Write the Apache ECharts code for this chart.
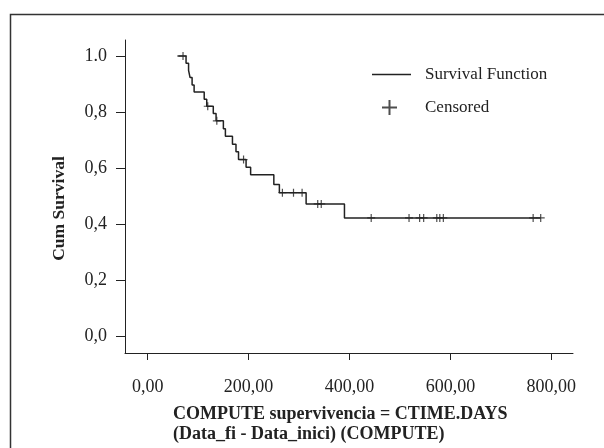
<!DOCTYPE html>
<html>
<head>
<meta charset="utf-8">
<script src="https://cdn.jsdelivr.net/npm/echarts@6/dist/echarts.min.js"></script>
<style>html,body{margin:0;padding:0;background:#fff}#c{width:604px;height:448px}</style>
</head>
<body>
<div id="c"></div>
<script>
// Kaplan-Meier step points (days, cumulative survival)
const stepTimes = [59, 76, 81, 84, 88, 92, 112, 117, 130, 135.5, 150, 154, 168, 175, 180, 195, 204, 250, 261, 314, 390, 779];
const stepSurv  = [1.0, 0.974, 0.949, 0.923, 0.897, 0.872, 0.846, 0.821, 0.795, 0.769, 0.741, 0.714, 0.686, 0.659, 0.631, 0.604, 0.577, 0.542, 0.513, 0.473, 0.423, 0.423];
// Censored observations
const censorTimes = [70, 119, 137, 190, 267, 289, 306, 337, 344, 443, 518, 539, 547, 573, 579, 586, 764, 779];
const censorSurv  = [1.0, 0.821, 0.769, 0.631, 0.513, 0.513, 0.513, 0.473, 0.473, 0.423, 0.423, 0.423, 0.423, 0.423, 0.423, 0.423, 0.423, 0.423];
// Axis ticks
const xTicks = [0, 200, 400, 600, 800];
const xTickLabels = ['0,00', '200,00', '400,00', '600,00', '800,00'];
const yTicks = [0, 0.2, 0.4, 0.6, 0.8, 1.0];
const yTickLabels = ['0,0', '0,2', '0,4', '0,6', '0,8', '1.0'];

const FONT = '"Liberation Serif", "DejaVu Serif", serif';
const INK = '#222';

function lab(ticks, labels) {
  return function (v) {
    for (let i = 0; i < ticks.length; i++) if (Math.abs(ticks[i] - v) < 1e-6) return labels[i];
    return '';
  };
}

const chart = echarts.init(document.getElementById('c'), null, {renderer: 'canvas'});
const cross = 'path://M0,5 L10,5 M5,0 L5,10';
chart.setOption({
  animation: false,
  backgroundColor: '#fff',
  title: {
    text: 'COMPUTE supervivencia = CTIME.DAYS\n(Data_fi - Data_inici) (COMPUTE)',
    left: 173, top: 404, padding: 0,
    textStyle: {fontFamily: FONT, fontWeight: 'bold', fontSize: 18, color: INK, lineHeight: 20}
  },
  legend: [
    {
      data: [{name: 'Survival Function', icon: 'rect', itemStyle: {color: INK}}],
      left: 372, top: 66, padding: 0, itemWidth: 39, itemHeight: 1.5,
      textStyle: {fontFamily: FONT, fontSize: 17, color: INK, padding: [0, 0, 0, 9]}
    },
    {
      data: [{name: 'Censored', icon: cross}],
      left: 381, top: 99, padding: 0, itemWidth: 39, itemHeight: 15,
      textStyle: {fontFamily: FONT, fontSize: 17, color: INK, padding: [0, 0, 0, 11]}
    }
  ],
  grid: {left: 125, right: 31, top: 40, bottom: 95, containLabel: false},
  xAxis: {
    type: 'value', min: -45, max: 843,
    axisLine: {show: true, onZero: false, lineStyle: {color: INK, width: 1}},
    axisTick: {show: true, length: 7, customValues: xTicks, lineStyle: {color: INK}},
    axisLabel: {customValues: xTicks, formatter: lab(xTicks, xTickLabels), margin: 25,
      fontFamily: FONT, fontSize: 18, color: INK},
    splitLine: {show: false}
  },
  yAxis: {
    type: 'value', min: -0.058, max: 1.057,
    name: 'Cum Survival', nameLocation: 'middle', nameGap: 57,
    nameTextStyle: {fontFamily: FONT, fontWeight: 'bold', fontSize: 17.5, color: INK, padding: [0, 24, 0, 0]},
    axisLine: {show: true, onZero: false, lineStyle: {color: INK, width: 1}},
    axisTick: {show: true, length: 9, customValues: yTicks, lineStyle: {color: INK}},
    axisLabel: {customValues: yTicks, formatter: lab(yTicks, yTickLabels), margin: 18,
      fontFamily: FONT, fontSize: 18, color: INK},
    splitLine: {show: false}
  },
  series: [
    {
      name: 'Survival Function', type: 'line', step: 'end', symbol: 'none',
      lineStyle: {color: INK, width: 1.5}, itemStyle: {color: INK},
      data: stepTimes.map((t, i) => [t, stepSurv[i]])
    },
    {
      name: 'Censored', type: 'scatter', symbol: cross, symbolSize: 8,
      itemStyle: {color: 'transparent', borderColor: INK, borderWidth: 1.2},
      data: censorTimes.map((t, i) => [t, censorSurv[i]])
    }
  ],
  graphic: [
    {type: 'rect', silent: true, z: -1, shape: {x: 10.5, y: 14.5, width: 700, height: 500},
      style: {fill: 'none', stroke: '#333', lineWidth: 1.5}}
  ]
});
</script>
</body>
</html>
